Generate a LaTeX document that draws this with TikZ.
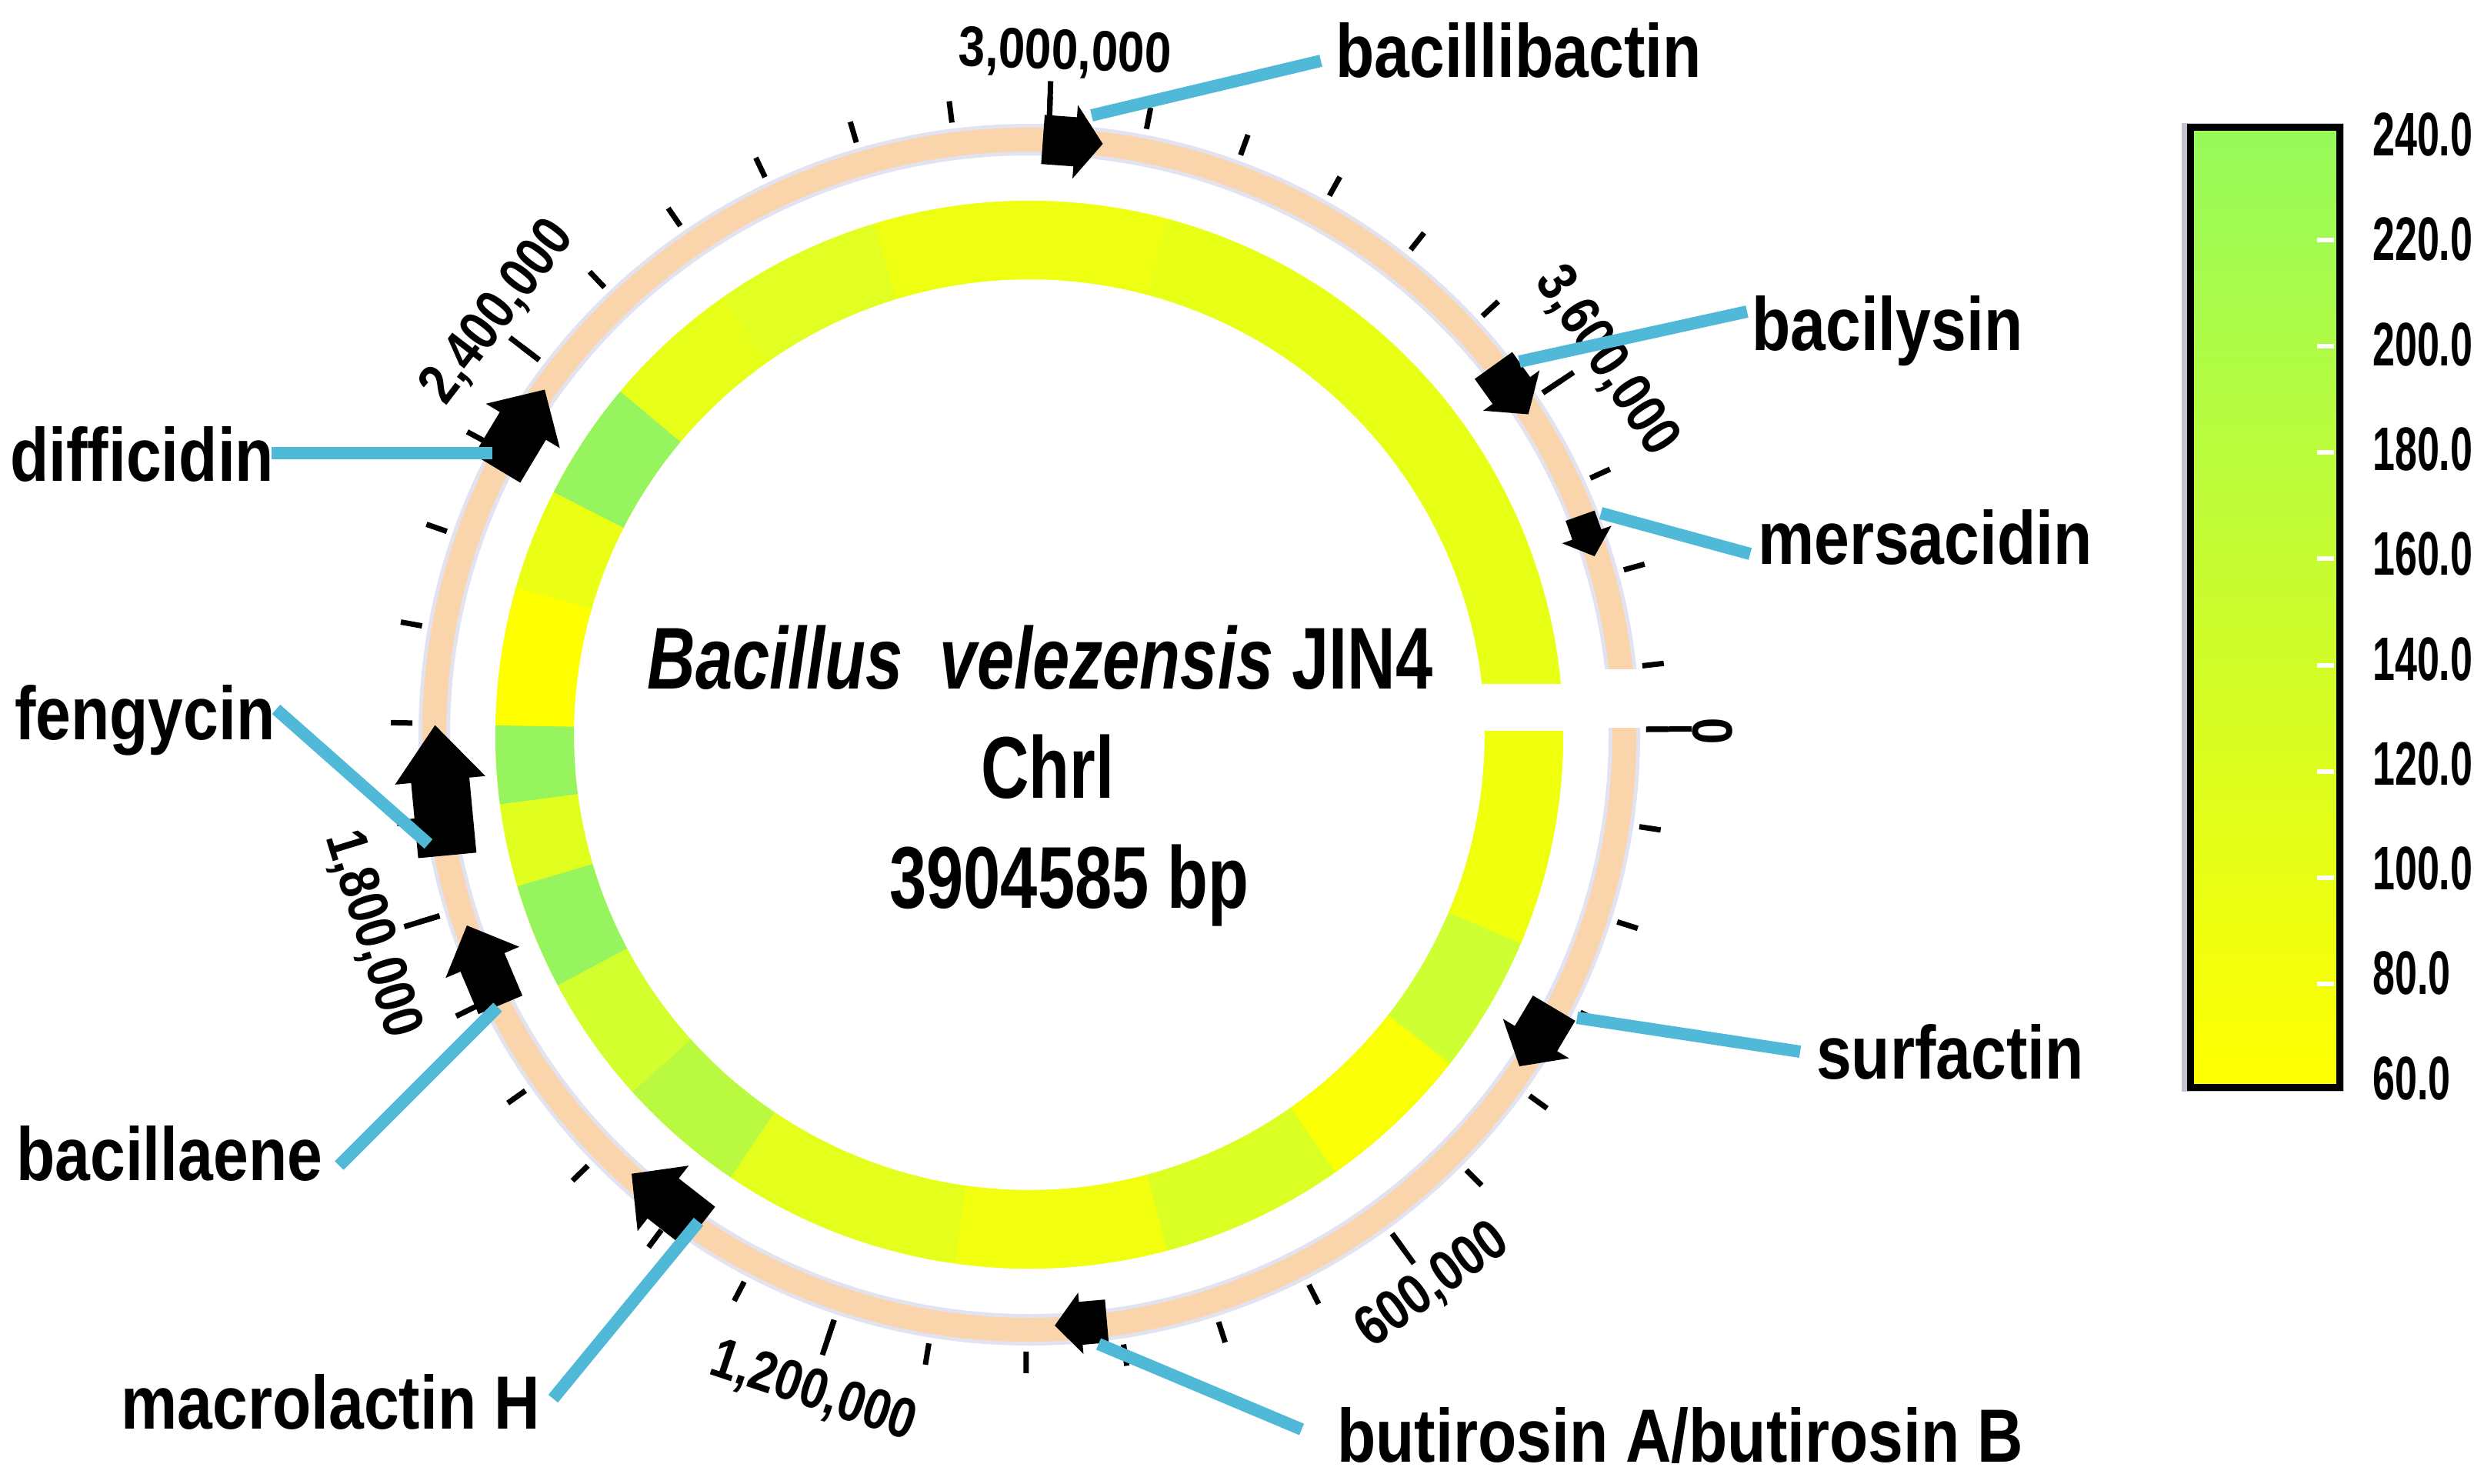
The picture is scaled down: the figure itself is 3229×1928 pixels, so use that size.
\documentclass[tikz,border=0pt]{standalone}
\usepackage{fontspec}
\setmainfont{Liberation Sans}
\newfontfamily\cfont{Liberation Sans}[FakeStretch=0.76]
\newfontfamily\gfont{Liberation Sans}[FakeStretch=0.84]
\newfontfamily\lfont{Liberation Sans}[FakeStretch=0.65]
\definecolor{ringc}{RGB}{250,213,172}
\definecolor{haloc}{RGB}{226,226,240}
\definecolor{lineblue}{RGB}{80,185,215}
\definecolor{legtop}{RGB}{150,250,90}
\definecolor{legbot}{RGB}{255,255,0}
\definecolor{gcbase}{RGB}{232,255,22}
\definecolor{legshadow}{RGB}{195,195,205}
\newcommand\gcseg[3]{\fill[fill={rgb,255:#3}] (#1:694) arc[start angle=#1,end angle=#2,radius=694] -- (#2:592) arc[start angle=#2,end angle=#1,radius=592] -- cycle;}
\newcommand\genearrow[6]{%
  \begin{scope}[rotate=#1]
    \fill[black] ({#2-#5},{#3/2}) -- ({#2-#5},{-#3/2+#4}) -- ({#2-#6},{-#3/2+#4}) -- (#2,{-#3/2}) -- ({#2+#6},{-#3/2+#4}) -- ({#2+#5},{-#3/2+#4}) -- ({#2+#5},{#3/2}) -- cycle;
  \end{scope}}
\tikzset{
  tickmark/.style={line width=7pt, black},
  tlab/.style={inner sep=0pt, font=\gfont\bfseries\fontsize{74}{80}\selectfont},
  glab/.style={inner sep=0pt, font=\gfont\bfseries\fontsize{98}{110}\selectfont},
  ctext/.style={inner sep=0pt, font=\cfont\bfseries\fontsize{114}{130}\selectfont},
  llab/.style={inner sep=0pt, anchor=west, font=\lfont\bfseries\fontsize{80}{90}\selectfont},
  conn/.style={line width=16pt, lineblue},
}
\begin{document}
\begin{tikzpicture}[x=1pt,y=1pt]
\useasboundingbox (0,0) rectangle (3229,-1928);
\fill[white] (0,0) rectangle (3229,-1928);

\begin{scope}[shift={(1338,-955)}]
  % GC ring
  \fill[gcbase, even odd rule] (0,0) circle[radius=694] (0,0) circle[radius=592];
  \gcseg{6}{75}{red,232;green,255;blue,22}
  \gcseg{75}{107}{red,238;green,255;blue,18}
  \gcseg{107}{125}{red,225;green,255;blue,35}
  \gcseg{125}{140}{red,232;green,255;blue,25}
  \gcseg{140}{153}{red,150;green,245;blue,95}
  \gcseg{153}{164}{red,235;green,255;blue,20}
  \gcseg{164}{179}{red,255;green,255;blue,0}
  \gcseg{179}{187.5}{red,150;green,245;blue,95}
  \gcseg{187.5}{196.5}{red,225;green,255;blue,30}
  \gcseg{196.5}{208}{red,150;green,245;blue,95}
  \gcseg{208}{222}{red,210;green,255;blue,45}
  \gcseg{222}{236}{red,185;green,250;blue,65}
  \gcseg{236}{262}{red,228;green,255;blue,28}
  \gcseg{262}{285}{red,242;green,255;blue,15}
  \gcseg{285}{305}{red,218;green,255;blue,35}
  \gcseg{305}{322}{red,250;green,255;blue,5}
  \gcseg{322}{337}{red,205;green,255;blue,50}
  \gcseg{337}{360.5}{red,240;green,255;blue,12}
  % feature ring
  \fill[haloc, even odd rule] (0,0) circle[radius=794] (0,0) circle[radius=753];
  \fill[ringc, even odd rule] (0,0) circle[radius=789] (0,0) circle[radius=758];
  % gap
  \fill[white] (542,5) rectangle (707,66);
  \fill[white] (707,9) rectangle (798,85);
  % ticks
  \foreach \i in {0,...,39}{
    \pgfmathsetmacro\ang{0.5-\i*9.0791}
    \draw[tickmark] (\ang:802) -- (\ang:830);
  }
  \foreach \i in {6,12,18,24,30,36}{
    \pgfmathsetmacro\ang{0.5-\i*9.0791}
    \draw[tickmark] (\ang:802) -- (\ang:850);
  }
  \draw[tickmark] (0.5:802) -- (0.5:861);
  % tick labels
  \node[tlab, rotate=-89.5] (k0) at (0.3:888) {0};
  \node[tlab, rotate=36] (k1) at (-53.8:888) {600,000};
  \node[tlab, rotate=-18.5] (k2) at (-108.2:900) {1,200,000};
  \node[tlab, rotate=-72.9] (k3) at (196.9:893) {1,800,000};
  \node[tlab, rotate=52.6] (k4) at (141.5:882) {2,400,000};
  \node[tlab, rotate=-1.9] (k5) at (87:886) {3,000,000};
  \node[tlab, rotate=-56.4] (k6) at (32.9:893) {3,600,000};
  % gene arrows
  \genearrow{85.8}{773}{78}{36}{32}{48}
  \genearrow{35.6}{770}{78}{38}{30}{45}
  \genearrow{19.6}{770}{56}{30}{20}{34}
  \genearrow{-30.8}{768}{88}{42}{32}{50}
  \genearrow{-85}{768}{68}{34}{28}{40}
  \genearrow{-128}{768}{112}{52}{33}{54}
  \genearrow{202.9}{770}{112}{52}{31}{52}
  \genearrow{185.4}{768}{170}{72}{38}{59}
  \genearrow{149}{771}{120}{55}{35}{56}
\end{scope}

% connector end points
\coordinate (a1) at (1419,-150); \coordinate (e1) at (1717,-79);
\coordinate (a2) at (1975,-470); \coordinate (e2) at (2271,-405);
\coordinate (a3) at (2081,-667); \coordinate (e3) at (2275,-720);
\coordinate (a4) at (2050,-1323); \coordinate (e4) at (2340,-1367);
\coordinate (a5) at (1428,-1747); \coordinate (e5) at (1692,-1858);
\coordinate (a6) at (908,-1588); \coordinate (e6) at (719,-1818);
\coordinate (a7) at (647,-1309); \coordinate (e7) at (441,-1515);
\coordinate (a8) at (557,-1097); \coordinate (e8) at (359,-922);
\coordinate (a9) at (640,-589); \coordinate (e9) at (353,-589);

% gene labels
\node[glab, anchor=base west] (g1) at (1736,-100) {bacillibactin};
\node[glab, anchor=base west] (g2) at (2277,-455) {bacilysin};
\node[glab, anchor=base west] (g3) at (2285,-733) {mersacidin};
\node[glab, anchor=base west] (g4) at (2361,-1402) {surfactin};
\node[glab, anchor=base west] (g5) at (1738,-1900) {butirosin A/butirosin B};
\node[glab, anchor=base east] (g6) at (702,-1857) {macrolactin H};
\node[glab, anchor=base west] (g7) at (21,-1534) {bacillaene};
\node[glab, anchor=base west] (g8) at (19,-961) {fengycin};
\node[glab, anchor=base west] (g9) at (13,-625) {difficidin};

% connectors
\draw[conn] (a1) -- (e1);
\draw[conn] (a2) -- (e2);
\draw[conn] (a3) -- (e3);
\draw[conn] (a4) -- (e4);
\draw[conn] (a5) -- (e5);
\draw[conn] (a6) -- (e6);
\draw[conn] (a7) -- (e7);
\draw[conn] (a8) -- (e8);
\draw[conn] (a9) -- (e9);

% centre title
\node[ctext, anchor=base] (t1) at (1352,-895) {\textit{Bacillus}\ \ \textit{velezensis} JIN4};
\node[ctext, anchor=base] (t2) at (1362,-1037) {Chrl};
\node[ctext, anchor=base] (t3) at (1390,-1180) {3904585 bp};

% legend
\fill[legshadow] (2836,-160) rectangle (3047,-1419);
\shade[top color=legtop, bottom color=legbot] (2847,-165) rectangle (3041,-1413);
\draw[line width=9pt, black] (2847,-165) rectangle (3041,-1413);
\foreach \v in {220,200,...,80}{
  \draw[white, line width=6pt] (3012,{-174-(240-\v)/20*138.1}) -- (3034,{-174-(240-\v)/20*138.1});
}
\foreach \v/\nm in {240/l240,220/l220,200/l200,180/l180,160/l160,140/l140,120/l120,100/l100,80/l80,60/l60}{
  \node[llab] (\nm) at (3084,{-175-(240-\v)/20*136.3}) {\v.0};
}
\end{tikzpicture}
\end{document}
